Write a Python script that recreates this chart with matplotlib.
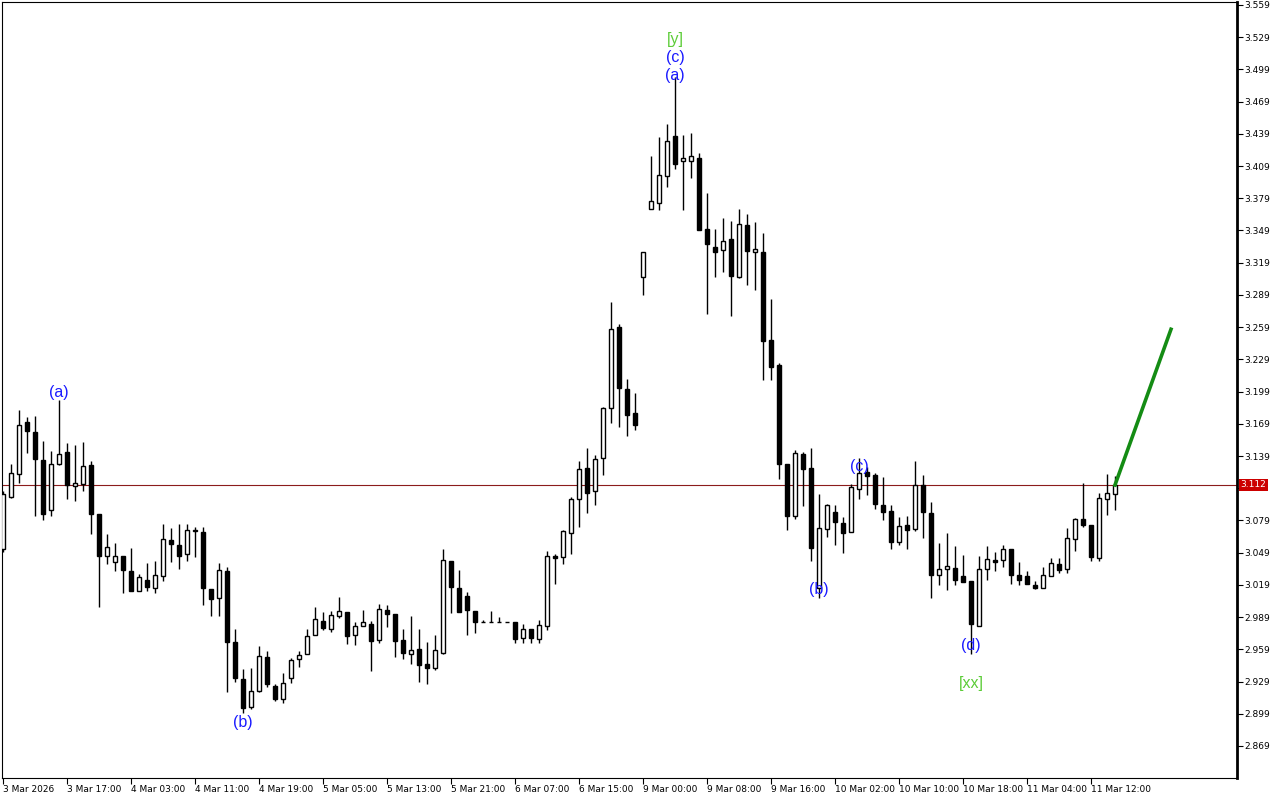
import numpy as np
import matplotlib
matplotlib.use("Agg")
import matplotlib.pyplot as plt

# hourly OHLC, 3 Mar 2026 - 11 Mar 2026
opens = [3.052, 3.101, 3.122, 3.171, 3.161, 3.135, 3.089, 3.132, 3.143, 3.111,
         3.113, 3.131, 3.085, 3.046, 3.040, 3.046, 3.032, 3.013, 3.024, 3.016,
         3.027, 3.061, 3.056, 3.048, 3.069, 3.068, 3.015, 3.007, 3.032, 2.966,
         2.931, 2.905, 2.920, 2.952, 2.925, 2.913, 2.932, 2.950, 2.955, 2.972,
         2.985, 2.978, 2.990, 2.994, 2.972, 2.981, 2.983, 2.968, 2.996, 2.992,
         2.968, 2.955, 2.959, 2.945, 2.942, 2.956, 3.041, 3.016, 3.009, 2.995,
         2.984, 2.984, 2.984, 2.984, 2.984, 2.970, 2.978, 2.969, 2.981, 3.046,
         3.045, 3.067, 3.099, 3.128, 3.106, 3.137, 3.184, 3.259, 3.201, 3.179,
         3.306, 3.369, 3.375, 3.400, 3.437, 3.414, 3.414, 3.416, 3.350, 3.334,
         3.331, 3.341, 3.306, 3.354, 3.329, 3.329, 3.247, 3.224, 3.132, 3.083,
         3.141, 3.128, 3.016, 3.071, 3.087, 3.077, 3.068, 3.108, 3.124, 3.121,
         3.093, 3.088, 3.059, 3.075, 3.071, 3.112, 3.086, 3.028, 3.034, 3.035,
         3.027, 3.023, 2.981, 3.034, 3.042, 3.042, 3.052, 3.028, 3.027, 3.019,
         3.016, 3.027, 3.038, 3.034, 3.062, 3.080, 3.075, 3.044, 3.099, 3.104]
highs = [3.106, 3.132, 3.182, 3.175, 3.176, 3.153, 3.144, 3.191, 3.151, 3.149,
         3.152, 3.134, 3.085, 3.066, 3.058, 3.046, 3.053, 3.029, 3.039, 3.041,
         3.076, 3.072, 3.076, 3.076, 3.073, 3.073, 3.015, 3.039, 3.036, 2.978,
         2.941, 2.942, 2.962, 2.957, 2.927, 2.937, 2.951, 2.957, 2.978, 2.998,
         2.994, 2.995, 3.008, 2.994, 2.984, 2.996, 2.985, 3.001, 3.000, 2.992,
         2.978, 2.990, 2.978, 2.966, 2.972, 3.052, 3.041, 3.033, 3.012, 2.995,
         2.986, 2.995, 2.989, 2.984, 2.984, 2.983, 2.978, 2.986, 3.051, 3.048,
         3.070, 3.101, 3.134, 3.146, 3.140, 3.185, 3.282, 3.262, 3.211, 3.198,
         3.329, 3.418, 3.436, 3.448, 3.492, 3.438, 3.440, 3.421, 3.384, 3.350,
         3.361, 3.358, 3.369, 3.364, 3.357, 3.347, 3.285, 3.226, 3.132, 3.145,
         3.143, 3.146, 3.104, 3.094, 3.093, 3.082, 3.113, 3.137, 3.129, 3.123,
         3.119, 3.093, 3.082, 3.083, 3.134, 3.121, 3.096, 3.058, 3.067, 3.055,
         3.047, 3.023, 3.046, 3.055, 3.050, 3.056, 3.052, 3.040, 3.032, 3.023,
         3.036, 3.044, 3.044, 3.072, 3.081, 3.114, 3.075, 3.105, 3.122, 3.120]
lows = [3.050, 3.100, 3.114, 3.142, 3.083, 3.079, 3.083, 3.131, 3.099, 3.097,
        3.106, 3.066, 2.998, 3.038, 3.032, 3.011, 3.013, 3.013, 3.013, 3.011,
        3.023, 3.040, 3.034, 3.041, 3.045, 3.000, 2.990, 2.990, 2.919, 2.929,
        2.900, 2.903, 2.919, 2.924, 2.911, 2.909, 2.928, 2.943, 2.955, 2.972,
        2.977, 2.975, 2.988, 2.964, 2.963, 2.981, 2.939, 2.965, 2.980, 2.952,
        2.950, 2.945, 2.929, 2.927, 2.940, 2.955, 2.993, 2.994, 2.972, 2.974,
        2.984, 2.984, 2.984, 2.984, 2.965, 2.965, 2.965, 2.965, 2.977, 3.020,
        3.038, 3.048, 3.073, 3.086, 3.093, 3.121, 3.170, 3.166, 3.158, 3.163,
        3.289, 3.369, 3.368, 3.389, 3.406, 3.368, 3.398, 3.349, 3.271, 3.306,
        3.310, 3.269, 3.305, 3.298, 3.294, 3.210, 3.210, 3.118, 3.070, 3.080,
        3.092, 3.041, 3.007, 3.064, 3.056, 3.049, 3.068, 3.099, 3.103, 3.090,
        3.079, 3.052, 3.056, 3.052, 3.069, 3.063, 3.007, 3.019, 3.014, 3.019,
        3.022, 2.955, 2.981, 3.024, 3.032, 3.036, 3.020, 3.019, 3.020, 3.015,
        3.016, 3.027, 3.030, 3.030, 3.051, 3.073, 3.041, 3.041, 3.084, 3.089]
closes = [3.104, 3.123, 3.168, 3.162, 3.136, 3.085, 3.132, 3.141, 3.112, 3.114,
          3.130, 3.085, 3.046, 3.054, 3.046, 3.033, 3.013, 3.026, 3.017, 3.028,
          3.062, 3.057, 3.046, 3.070, 3.070, 3.016, 3.006, 3.033, 2.966, 2.932,
          2.904, 2.920, 2.953, 2.927, 2.913, 2.928, 2.949, 2.954, 2.971, 2.987,
          2.979, 2.991, 2.995, 2.971, 2.981, 2.984, 2.967, 2.997, 2.992, 2.967,
          2.956, 2.958, 2.944, 2.942, 2.958, 3.042, 3.017, 2.994, 2.996, 2.984,
          2.984, 2.984, 2.984, 2.984, 2.969, 2.978, 2.970, 2.982, 3.046, 3.044,
          3.069, 3.099, 3.127, 3.105, 3.136, 3.184, 3.257, 3.202, 3.177, 3.168,
          3.329, 3.376, 3.401, 3.432, 3.411, 3.416, 3.418, 3.349, 3.336, 3.329,
          3.339, 3.307, 3.355, 3.330, 3.332, 3.246, 3.222, 3.132, 3.083, 3.142,
          3.127, 3.053, 3.072, 3.093, 3.078, 3.067, 3.110, 3.123, 3.120, 3.094,
          3.087, 3.059, 3.074, 3.070, 3.112, 3.087, 3.028, 3.034, 3.037, 3.024,
          3.022, 2.983, 3.034, 3.043, 3.040, 3.052, 3.028, 3.024, 3.020, 3.016,
          3.028, 3.039, 3.033, 3.063, 3.080, 3.075, 3.045, 3.100, 3.105, 3.112]

time_labels = ["3 Mar 2026", "3 Mar 17:00", "4 Mar 03:00", "4 Mar 11:00", "4 Mar 19:00",
               "5 Mar 05:00", "5 Mar 13:00", "5 Mar 21:00", "6 Mar 07:00", "6 Mar 15:00",
               "9 Mar 00:00", "9 Mar 08:00", "9 Mar 16:00", "10 Mar 02:00", "10 Mar 10:00",
               "10 Mar 18:00", "11 Mar 04:00", "11 Mar 12:00"]

# wave marks: bar, text, anchored at high/low, offset (pt), colour
BLUE = "#1a1aff"
LGREEN = "#5ccc38"
wave_marks = [(7, "(a)", "high", 5.8, BLUE),
              (30, "(b)", "low", -6.7, BLUE),
              (84, "(a)", "high", 0.7, BLUE),
              (84, "(c)", "high", 13.7, BLUE),
              (84, "[y]", "high", 26.6, LGREEN),
              (102, "(b)", "low", 5.8, BLUE),
              (107, "(c)", "high", -5.8, BLUE),
              (121, "(d)", "low", 6.2, BLUE),
              (121, "[xx]", "low", -21.2, LGREEN)]

# projected move
proj_bars = [139, 146]
proj_prices = [3.112, 3.257]

o = np.array(opens)
h = np.array(highs)
l = np.array(lows)
c = np.array(closes)
x = np.arange(len(o))
up = c >= o

fig = plt.figure(figsize=(12.8, 8), dpi=100)
ax = fig.add_axes([2 / 1280, 22 / 800, 1235 / 1280, 776 / 800])

ax.axhline(c[-1], color="#8c1c1c", lw=0.8, zorder=1)

ax.vlines(x, l, h, color="black", lw=1, zorder=2)
bottom = np.minimum(o, c)
height = np.maximum(np.abs(c - o), 0.0004)
ax.bar(x[up], height[up], bottom=bottom[up], width=0.6,
       facecolor="white", edgecolor="black", lw=1, zorder=3)
ax.bar(x[~up], height[~up], bottom=bottom[~up], width=0.6,
       facecolor="black", edgecolor="black", lw=1, zorder=3)

ax.plot(proj_bars, proj_prices, color="#148c14", lw=2.6, zorder=4)

for i, txt, anchor, off, col in wave_marks:
    base = h[i] if anchor == "high" else l[i]
    ax.annotate(txt, xy=(i, base), xytext=(0, off), textcoords="offset points",
                ha="center", va="center", color=col, fontsize=11.5,
                family="Liberation Sans", zorder=5)

ax.set_xlim(-0.125, 154.25)
ax.set_ylim(2.8392, 3.5617)

ax.set_xticks(np.arange(0, len(time_labels) * 8, 8))
ax.set_xticklabels(time_labels, ha="left", fontsize=6.5)
ax.tick_params(axis="x", direction="out", length=4, pad=1)

# price scale; the label hidden under the last-price box is left blank
yt = np.round(np.arange(2.869, 3.560, 0.030), 3)
ax.yaxis.tick_right()
ax.set_yticks(yt)
ax.set_yticklabels(["" if abs(v - c[-1]) < 0.006 else f"{v:.3f}" for v in yt])
ax.tick_params(axis="y", direction="out", length=4, pad=1, labelsize=6.5)
ax.spines["right"].set_linewidth(2)

ax.annotate(f"{c[-1]:.3f}", xy=(1, c[-1]), xycoords=("axes fraction", "data"),
            xytext=(2.5, 0), textcoords="offset points", ha="left", va="center",
            fontsize=6.5, color="white", annotation_clip=False, zorder=6,
            bbox=dict(boxstyle="square,pad=0.2", fc="#cc0000", ec="none"))

fig.savefig("out.png", dpi=100)
